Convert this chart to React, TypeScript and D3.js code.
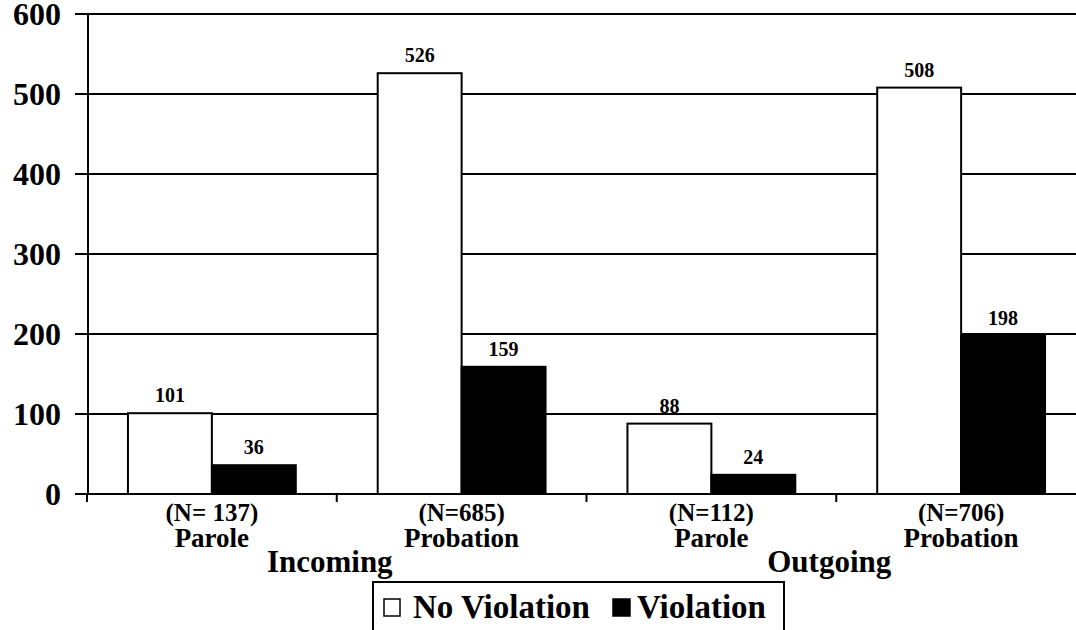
import React from "react";
import * as d3 from "d3";

const groups = ["Incoming", "Outgoing"];
const categories = ["Parole In", "Probation In", "Parole Out", "Probation Out"];
const categoryNames = ["Parole", "Probation", "Parole", "Probation"];
const categoryN = ["(N= 137)", "(N=685)", "(N=112)", "(N=706)"];
const categoryGroup = [0, 0, 1, 1];
const series = ["No Violation", "Violation"];
const noViolation = [101, 526, 88, 508];
const violation = [36, 159, 24, 198];
const yTicks = [0, 100, 200, 300, 400, 500, 600];

const W = 1076;
const H = 630;
const FONT = "Liberation Serif, Tinos, Times New Roman, Times, Nimbus Roman, DejaVu Serif, serif";

export default function App() {
  const x0 = d3.scaleBand<string>().domain(categories).range([87, 1086]).padding(0);
  const x1 = d3
    .scaleBand<string>()
    .domain(series)
    .range([0, x0.bandwidth()])
    .paddingInner(0)
    .paddingOuter(0.488);
  const y = d3.scaleLinear().domain([0, 600]).range([494, 14]);
  const fills = ["#ffffff", "#000000"];
  const values = [noViolation, violation];

  return (
    <svg
      width={W}
      height={H}
      style={{ position: "fixed", left: 0, top: 0, background: "#fff" }}
      fontFamily={FONT}
      fontWeight="bold"
    >
      <rect x={0} y={0} width={W} height={H} fill="#fff" />
      {yTicks.map((t) => (
        <line key={"g" + t} x1={75} x2={W + 20} y1={y(t)} y2={y(t)} stroke="#000" strokeWidth={2} />
      ))}
      {yTicks.map((t) => (
        <text key={"yl" + t} x={61} y={y(t) + 11} textAnchor="end" fontSize={32} fill="#000">
          {t}
        </text>
      ))}
      <line x1={88} x2={88} y1={y(600)} y2={y(0)} stroke="#000" strokeWidth={2} />
      {categories.map((c) => (
        <line key={"xt" + c} x1={x0(c)!} x2={x0(c)!} y1={y(0)} y2={y(0) + 8} stroke="#000" strokeWidth={2} />
      ))}
      {categories.map((c, i) =>
        series.map((s, j) => (
          <rect
            key={c + s}
            x={x0(c)! + x1(s)!}
            y={y(values[j][i])}
            width={x1.bandwidth()}
            height={y(0) - y(values[j][i])}
            fill={fills[j]}
            stroke="#000"
            strokeWidth={2}
          />
        ))
      )}
      {categories.map((c, i) =>
        series.map((s, j) => (
          <text
            key={"v" + c + s}
            x={x0(c)! + x1(s)! + x1.bandwidth() / 2}
            y={y(values[j][i]) - 11}
            textAnchor="middle"
            fontSize={20}
            fill="#000"
          >
            {values[j][i]}
          </text>
        ))
      )}
      {categories.map((c, i) => (
        <g key={"cl" + c}>
          <text x={x0(c)! + x0.bandwidth() / 2} y={521} textAnchor="middle" fontSize={25} fill="#000">
            {categoryN[i]}
          </text>
          <text x={x0(c)! + x0.bandwidth() / 2} y={547} textAnchor="middle" fontSize={27} fill="#000">
            {categoryNames[i]}
          </text>
        </g>
      ))}
      {groups.map((g, gi) => {
        const cats = categories.filter((_, i) => categoryGroup[i] === gi);
        const mid = x0(cats[1])! - 7;
        return (
          <text key={"gl" + g} x={mid} y={572} textAnchor="middle" fontSize={31} fill="#000">
            {g}
          </text>
        );
      })}
      <rect x={373} y={582} width={411} height={70} fill="#fff" stroke="#000" strokeWidth={2} />
      <rect x={384} y={599} width={16} height={17} fill="#fff" stroke="#000" strokeWidth={1.5} />
      <text x={413} y={618} fontSize={33} fill="#000">
        {series[0]}
      </text>
      <rect x={613} y={599} width={17} height={17} fill="#000" stroke="#000" strokeWidth={1.5} />
      <text x={637} y={618} fontSize={33} fill="#000">
        {series[1]}
      </text>
    </svg>
  );
}
